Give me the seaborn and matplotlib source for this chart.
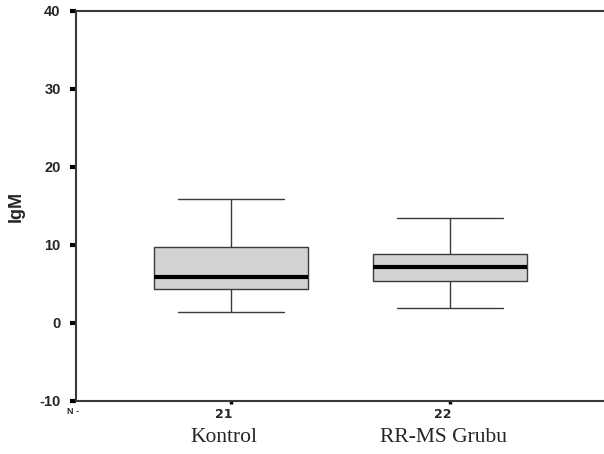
import numpy as np
import pandas as pd
import seaborn as sns
import matplotlib
matplotlib.use("Agg")
import matplotlib.pyplot as plt
from matplotlib.transforms import blended_transform_factory, ScaledTranslation

# Data (five-number summaries)
categories = ["Kontrol", "RR-MS Grubu"]
kontrol_stats = [1.4, 4.35, 5.9, 9.7, 15.85]
rrms_stats = [1.9, 5.4, 7.15, 8.9, 13.4]
counts = [21, 22]
y_ticks = [-10, 0, 10, 20, 30, 40]

sns.set_style("white")
plt.rcParams['font.family'] = ['Liberation Sans', 'DejaVu Sans']

df = pd.DataFrame({
    "grup": [categories[0]] * len(kontrol_stats) + [categories[1]] * len(rrms_stats),
    "IgM": kontrol_stats + rrms_stats,
})

fig = plt.figure(figsize=(6.04, 4.54), dpi=100)
ax = fig.add_axes([76 / 604, 53 / 454, 1 - 76 / 604, (401 - 11) / 454])

edge = "#3a3a3a"
sns.boxplot(data=df, x="grup", y="IgM", order=categories, ax=ax,
            whis=np.inf, width=0.70, color="#d3d3d3", saturation=1,
            linecolor=edge, linewidth=1.0,
            medianprops=dict(color="black", linewidth=3.0),
            capwidths=0.48)

ax.set_ylim(-10, 40)
ax.set_xlim(-0.708, 1.703)
ax.set_yticks(y_ticks)
ax.set_yticklabels([str(v) for v in y_ticks], fontsize=10.5, fontweight="bold")
ax.set_xticks(range(len(categories)))
ax.set_xticklabels([str(c) for c in counts], fontsize=9, fontweight="bold",
                   family=["DejaVu Sans"])
ax.set_xlabel("")
ax.set_ylabel("IgM", fontsize=13, fontweight="bold")
ax.yaxis.label.set_va("center")
ax.yaxis.set_label_coords((16 - 76) / 528, 0.5)

for side in ["left", "top", "bottom"]:
    ax.spines[side].set_visible(True)
    ax.spines[side].set_color(edge)
    ax.spines[side].set_linewidth(1.5)
ax.spines["right"].set_visible(False)

ax.tick_params(axis="y", direction="out", length=4, width=3, color="black", pad=7, left=True)
ax.tick_params(axis="x", direction="out", length=2, width=2.5, color="black", pad=3, bottom=True)

# shift count labels slightly left as in the reference
off = ScaledTranslation(-7 / 100, 0, fig.dpi_scale_trans)
for lab in ax.get_xticklabels():
    lab.set_transform(lab.get_transform() + off)

# "N" marker at left
fig.text(67 / 604, 1 - 412 / 454, "N -", fontsize=6.5, fontweight="bold", va="center", ha="left")

# category names below the counts (serif)
trans = blended_transform_factory(ax.transData, fig.transFigure)
for i, name in enumerate(categories):
    ax.text(i, 1 - 437 / 454, name, transform=trans + off, ha="center", va="center",
            fontsize=15.5, family=["Liberation Serif", "DejaVu Serif"])

fig.savefig("out.png", dpi=100)
